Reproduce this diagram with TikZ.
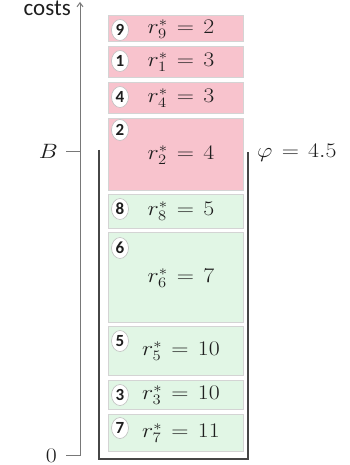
\documentclass[tikz,border=0pt]{standalone}
\usepackage{fontspec}
\usepackage{graphicx}
\newfontfamily\labelfont{Carlito}
\usetikzlibrary{shapes.geometric,arrows.meta}
\definecolor{pinkfill}{RGB}{248,195,205}
\definecolor{greenfill}{RGB}{225,246,229}
\definecolor{boxline}{RGB}{212,212,212}
\definecolor{tagline}{RGB}{190,190,190}
\definecolor{axisgray}{RGB}{120,120,120}
\definecolor{bingray}{RGB}{70,70,70}
\definecolor{inkgray}{RGB}{30,30,30}
\newcommand{\wide}[1]{\scalebox{1.15}[1]{$\thickmuskip=7mu #1$}}
\begin{document}
\begin{tikzpicture}[x=1pt,y=-1pt,
  slot/.style={draw=boxline, line width=0.8pt, minimum width=135pt, inner sep=0pt},
  pinkslot/.style={slot, fill=pinkfill},
  greenslot/.style={slot, fill=greenfill},
  numtag/.style={ellipse, draw=tagline, fill=white, line width=0.6pt, inner sep=0pt,
    minimum width=17pt, minimum height=21pt, text=inkgray,
    font=\labelfont\bfseries\fontsize{17}{17}\selectfont},
  valtext/.style={font=\fontsize{21}{24}\selectfont, inner sep=0pt, text=inkgray},
  axisline/.style={draw=axisgray, line width=1pt},
  binline/.style={draw=bingray, line width=1.6pt}
]
\useasboundingbox (0,0) rectangle (350,465);
% axis
\coordinate (ax0) at (80,455);
\coordinate (axtop) at (80,2);
\coordinate (t0) at (66,455);
\coordinate (tB) at (66,152);
\coordinate (aB) at (80,152);
\draw[axisline, -{Straight Barb[length=4pt,width=6pt]}] (t0) -- (ax0) -- (axtop);
\draw[axisline] (tB) -- (aB);
\node[font=\labelfont\fontsize{23}{23}\selectfont, anchor=base east, inner sep=0pt, text=inkgray] (costs) at (71,16) {costs};
\node[valtext, anchor=base east] (Blab) at (58,158) {\wide{B}};
\node[valtext, anchor=base east] (zlab) at (57,462) {\wide{0}};
% bin
\coordinate (bl) at (99,150);
\coordinate (bbl) at (99,459);
\coordinate (bbr) at (248,459);
\coordinate (br) at (248,152);
\draw[binline] (bl) -- (bbl) -- (bbr) -- (br);
% boxes
\node[pinkslot, minimum height=26pt] (b9) at (175.5,28) {};
\node[pinkslot, minimum height=31pt] (b1) at (175.5,61.5) {};
\node[pinkslot, minimum height=31pt] (b4) at (175.5,97.5) {};
\node[pinkslot, minimum height=72pt] (b2) at (175.5,154) {};
\node[greenslot, minimum height=34pt] (b8) at (175.5,211) {};
\node[greenslot, minimum height=90pt] (b6) at (175.5,277) {};
\node[greenslot, minimum height=49pt] (b5) at (175.5,350.5) {};
\node[greenslot, minimum height=29pt] (b3) at (175.5,394.5) {};
\node[greenslot, minimum height=37pt] (b7) at (175.5,432.5) {};
% values
\node[valtext] (v9) at (181,29) {\wide{r_9^* = 2}};
\node[valtext] (v1) at (181,62) {\wide{r_1^* = 3}};
\node[valtext] (v4) at (181,98) {\wide{r_4^* = 3}};
\node[valtext] (v2) at (181,155) {\wide{r_2^* = 4}};
\node[valtext] (v8) at (181,211) {\wide{r_8^* = 5}};
\node[valtext] (v6) at (181,278) {\wide{r_6^* = 7}};
\node[valtext] (v5) at (181,351) {\wide{r_5^* = 10}};
\node[valtext] (v3) at (181,395) {\wide{r_3^* = 10}};
\node[valtext] (v7) at (181,433) {\wide{r_7^* = 11}};
% number tags
\node[numtag] (n9) at (120,30) {9};
\node[numtag] (n1) at (120,61) {1};
\node[numtag] (n4) at (120,97) {4};
\node[numtag] (n2) at (120,130) {2};
\node[numtag] (n8) at (120,209) {8};
\node[numtag] (n6) at (120,248) {6};
\node[numtag] (n5) at (120,341) {5};
\node[numtag] (n3) at (120,395) {3};
\node[numtag] (n7) at (120,428) {7};
% phi
\node[valtext, anchor=west] (phi) at (257,153) {\wide{\varphi = 4.5}};
\end{tikzpicture}
\end{document}
